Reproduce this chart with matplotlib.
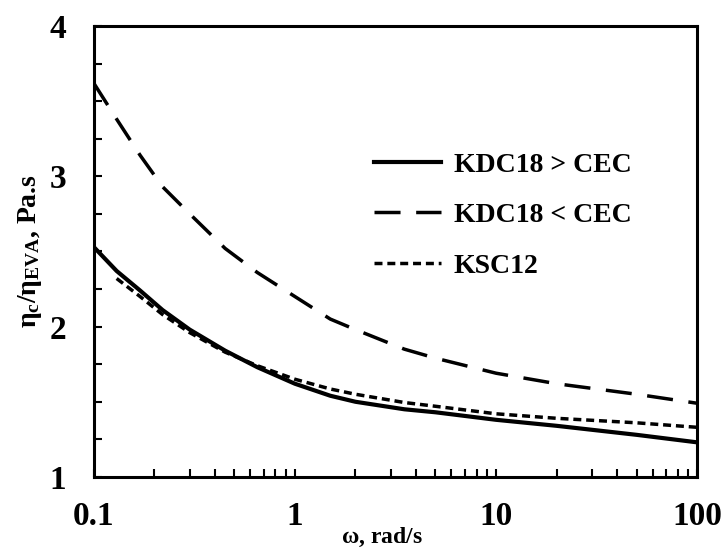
import matplotlib
matplotlib.use('Agg')
import matplotlib.pyplot as plt
from matplotlib.ticker import MultipleLocator, LogLocator, NullFormatter, FixedLocator, FixedFormatter

plt.rcParams['font.family'] = 'Liberation Serif'
plt.rcParams['font.weight'] = 'bold'
plt.rcParams['mathtext.fontset'] = 'custom'
plt.rcParams['mathtext.rm'] = 'Liberation Serif:bold'
plt.rcParams['mathtext.it'] = 'Liberation Serif:bold'

# frequency, rad/s
omega = [0.1, 0.13, 0.17, 0.22, 0.3, 0.45, 0.65, 1, 1.5, 2, 3.5, 5, 10, 20, 50, 100]

# relative viscosity curves
kdc18_above = [2.53, 2.37, 2.24, 2.11, 1.98, 1.84, 1.73, 1.62, 1.54, 1.50, 1.45, 1.43, 1.38, 1.34, 1.28, 1.23]
kdc18_below = [3.62, 3.38, 3.14, 2.93, 2.75, 2.52, 2.36, 2.20, 2.05, 1.98, 1.85, 1.79, 1.69, 1.62, 1.55, 1.49]
# KSC12 starts at the second frequency
ksc12 = [2.32, 2.20, 2.08, 1.96, 1.83, 1.74, 1.65, 1.585, 1.55, 1.495, 1.47, 1.42, 1.39, 1.36, 1.33]

fig, ax = plt.subplots(figsize=(7.21, 5.52), dpi=100)
fig.subplots_adjust(left=0.130, right=0.967, top=0.953, bottom=0.136)

ax.plot(omega, kdc18_above, color='black', lw=3.0, label='KDC18 > CEC')
ax.plot(omega, kdc18_below, color='black', lw=2.5, dashes=(7.5, 4.5), label='KDC18 < CEC')
ax.plot(omega[1:], ksc12, color='black', lw=2.5, dashes=(2.3, 1.4), label='KSC12')

ax.set_xscale('log')
ax.set_xlim(0.1, 100)
ax.set_ylim(1, 4)
ax.xaxis.set_major_locator(FixedLocator([0.1, 1, 10, 100]))
ax.xaxis.set_major_formatter(FixedFormatter(['0.1', '1', '10', '100']))
ax.xaxis.set_minor_locator(LogLocator(base=10, subs=range(2, 10)))
ax.xaxis.set_minor_formatter(NullFormatter())
ax.yaxis.set_major_locator(MultipleLocator(1))
ax.yaxis.set_minor_locator(MultipleLocator(0.25))

ax.tick_params(which='both', direction='in', width=1.5, length=6, top=False, right=False)
ax.tick_params(axis='y', which='major', labelsize=24, pad=20)
ax.tick_params(axis='x', which='major', labelsize=24, pad=17)
for s in ax.spines.values():
    s.set_linewidth(2.2)

ax.set_xlabel(r'$\omega$, rad/s', fontsize=17, fontweight='bold')
ax.xaxis.set_label_coords(0.478, -0.108)
ax.set_ylabel(r'$\eta_{\mathrm{c}}/\eta_{\mathrm{EVA}}$, Pa.s', fontsize=20, fontweight='bold', labelpad=4)

ax.legend(loc='upper left', bbox_to_anchor=(0.465, 0.72), frameon=False, fontsize=20,
          borderpad=0, borderaxespad=0,
          handlelength=2.4, handletextpad=0.45, labelspacing=0.9)

fig.savefig('out.png', dpi=100)
